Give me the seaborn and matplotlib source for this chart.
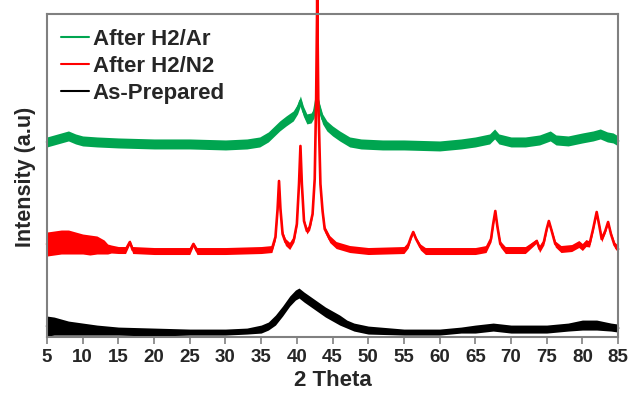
import numpy as np
import pandas as pd
import matplotlib
matplotlib.use("Agg")
import matplotlib.pyplot as plt
import seaborn as sns

# ---- data (arbitrary intensity units) ----
ar_x = [5, 6, 7, 8, 9, 10, 12, 15, 20, 25, 30, 33, 34.8, 36, 37.6, 38.5, 39.5, 40.1, 40.5, 40.9,
        41.4, 42.0, 42.4, 42.8, 43.2, 43.6, 44.2, 45, 46, 47.4, 49, 52, 55, 60, 63, 65, 67,
        67.7, 68.3, 70, 72, 74, 75.5, 76.3, 78, 80, 81.5, 82.5, 83.5, 84.3, 85]
ar_y = [195, 197, 199, 201, 198, 196, 195, 194, 193, 193, 192, 193, 195, 200, 211, 216, 221, 228, 236, 226,
        218, 219, 224, 240, 228, 218, 211, 206, 201, 195, 193, 192, 192, 191, 193, 195, 198,
        203, 198, 195, 195, 197, 201, 197, 196, 199, 201, 203, 200, 199, 196]
ar_noise = [5] * len(ar_x)

n2_x = [5, 6, 7, 8, 9, 10, 11, 12, 13, 13.5, 14, 15, 16, 16.6, 17, 20, 25, 25.5, 26, 30, 35,
        36.5, 37.0, 37.3, 37.5, 37.7, 38.0, 38.4, 39.0, 39.6, 40.0, 40.3, 40.5, 40.7, 41.0,
        41.4, 41.8, 42.2, 42.5, 42.7, 42.85, 43.0, 43.3, 43.6, 43.9, 44.6, 45.5, 47.4, 50,
        55.0, 55.6, 56.0, 56.3, 56.7, 57.3, 58, 60, 65, 66.5, 67.2, 67.5, 67.8, 68.1, 68.5,
        69.2, 72, 73.6, 74.0, 74.6, 75.0, 75.3, 75.7, 76.2, 77, 78.5, 79.5, 80, 80.5, 81,
        81.5, 82.0, 82.4, 82.7, 83.2, 83.6, 84.0, 84.5, 85]
n2_y = [93, 94, 95, 95, 94, 93, 92, 92, 90, 88, 88, 87, 87, 95, 87, 86, 86, 93, 86, 86, 87,
        88, 100, 128, 156, 128, 103, 95, 91, 98, 113, 153, 191, 153, 116,
        106, 110, 123, 158, 238, 338, 238, 153, 126, 108, 98, 92, 88, 86,
        87, 92, 100, 105, 98, 90, 86, 86, 86, 88, 98, 113, 126, 110, 93,
        87, 87, 96, 88, 95, 108, 116, 106, 93, 88, 89, 93, 90, 94, 93,
        108, 125, 110, 98, 106, 115, 103, 92, 88]
n2_noise = [12, 12, 12, 12, 11, 10, 10, 9, 7, 5, 4, 3.5, 3.5, 2, 3.5, 3.5, 3.5, 2, 3.5, 3.5, 3.5,
            3.5, 3, 2, 1, 2, 3, 3.5, 3.5, 3, 2, 1, 1, 1, 2,
            3, 3, 2, 1, 0.5, 0, 0.5, 1, 2, 3, 3.5, 3.5, 3.5, 3.5,
            3.5, 3, 2, 1.5, 2, 3, 3.5, 3.5, 3.5, 3.5, 3, 2, 1, 2, 3,
            3.5, 3.5, 2, 3.5, 3, 2, 1, 2, 3, 3.5, 3.5, 3.5, 3.5, 3.5, 3,
            2, 1, 2, 3, 2, 1, 2, 3, 3.5]

ap_x = [5, 6, 7, 8, 10, 12, 15, 20, 25, 30, 33, 35, 36, 37, 38, 39, 39.8, 40.3, 41, 42, 43,
        44, 45, 46, 47, 48, 50, 55, 60, 63, 65, 67.5, 70, 72, 75, 78, 80, 82, 84, 85]
ap_y = [11, 11, 10, 9, 8, 7, 6, 5, 5, 5, 6, 8, 11, 17, 26, 36, 42, 44, 40, 35, 30,
        25, 21, 17, 13, 10, 7, 5, 5, 7, 8, 10, 8, 8, 8, 10, 12, 12, 10, 9]
ap_noise = [10, 9, 8, 7, 6, 5, 4, 4, 3, 3, 3, 4, 4, 5, 5, 5, 5, 5, 5, 5, 5,
            5, 5, 5, 4, 4, 4, 3, 3, 3, 4, 4, 4, 4, 4, 4, 5, 5, 4, 4]

series = [
    ("After H2/Ar", ar_x, ar_y, ar_noise, "#00A550"),
    ("After H2/N2", n2_x, n2_y, n2_noise, "#FF0000"),
    ("As-Prepared", ap_x, ap_y, ap_noise, "#000000"),
]

x_ticks = list(range(5, 90, 5))

# ---- figure ----
sns.set_theme(style="white")
plt.rcParams["font.family"] = ["Liberation Sans", "DejaVu Sans"]

fig = plt.figure(figsize=(6.32, 4.02), dpi=100)
ax = fig.add_axes([0.0744, 0.159, 0.9036, 0.804])

for name, xs, ys, ns, col in series:
    df = pd.DataFrame({"x": xs, "y": ys})
    sns.lineplot(data=df, x="x", y="y", ax=ax, color=col, lw=1.9, label=name,
                 clip_on=False)
    lo = np.array(ys) - np.array(ns)
    hi = np.array(ys) + np.array(ns)
    ax.fill_between(xs, lo, hi, color=col, lw=0)

ax.set_xlim(5, 85)
ax.set_ylim(0, 323)
ax.set_xticks(x_ticks)
ax.set_xticklabels([str(t) for t in x_ticks], fontsize=13.5, fontweight="bold")
ax.set_yticks([])
ax.set_xlabel("2 Theta", fontsize=16, fontweight="bold", labelpad=3)
ax.set_ylabel("Intensity (a.u)", fontsize=15.5, fontweight="bold", labelpad=8)

for s in ax.spines.values():
    s.set_color("#808080")
    s.set_linewidth(1.5)
    s.set_visible(True)
ax.tick_params(axis="x", direction="out", length=5, width=1.2, color="#808080",
               bottom=True, pad=3)

leg = ax.legend(loc="upper left", frameon=False, handlelength=1.25,
                handletextpad=0.15, borderaxespad=0.25, labelspacing=0.27,
                prop={"size": 16, "weight": "bold"})
for line in leg.get_lines():
    line.set_linewidth(1.5)

fig.savefig("out.png", dpi=100)
